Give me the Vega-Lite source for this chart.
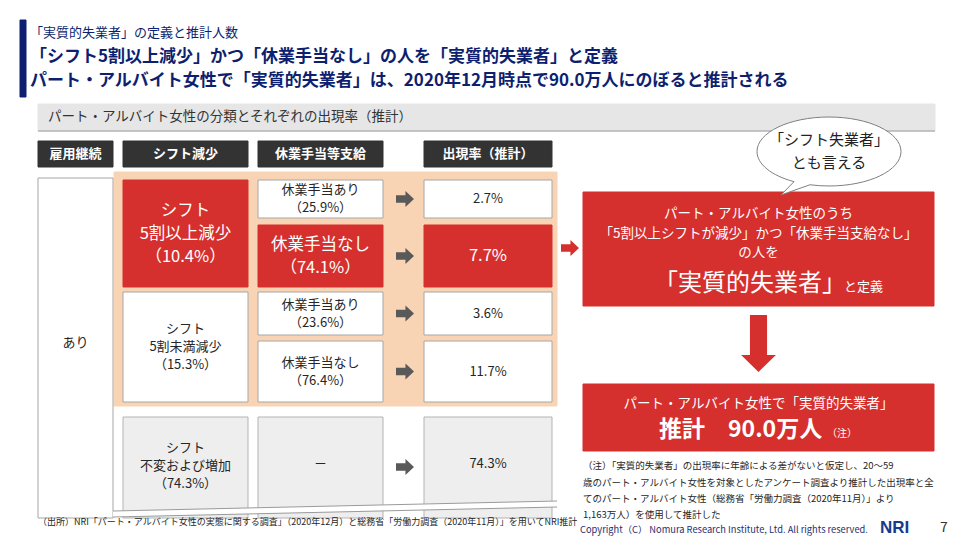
{
  "$schema": "https://vega.github.io/schema/vega-lite/v6.json",
  "width": 960,
  "height": 540,
  "padding": 0,
  "autosize": {"type": "fit", "contains": "padding"},
  "background": "#ffffff",
  "config": {"view": {"stroke": null}, "font": "Noto Sans CJK JP"},
  "datasets": {
    "boxes": [
      {"x": 20, "x2": 26, "y": 20, "y2": 97, "kind": "navy"},
      {"x": 38, "x2": 935, "y": 104, "y2": 131, "kind": "band"},
      {"x": 38, "x2": 113, "y": 141, "y2": 167, "kind": "dark"},
      {"x": 123, "x2": 248, "y": 141, "y2": 167, "kind": "dark"},
      {"x": 258, "x2": 383, "y": 141, "y2": 167, "kind": "dark"},
      {"x": 424, "x2": 552, "y": 141, "y2": 167, "kind": "dark"},
      {"x": 114, "x2": 557, "y": 172, "y2": 406, "kind": "orange"},
      {"x": 38, "x2": 113, "y": 178, "y2": 518, "kind": "white"},
      {"x": 123, "x2": 248, "y": 180, "y2": 287, "kind": "red"},
      {"x": 258, "x2": 383, "y": 180, "y2": 218, "kind": "white"},
      {"x": 258, "x2": 383, "y": 225, "y2": 287, "kind": "red"},
      {"x": 424, "x2": 552, "y": 180, "y2": 218, "kind": "white"},
      {"x": 424, "x2": 552, "y": 225, "y2": 287, "kind": "red"},
      {"x": 123, "x2": 248, "y": 292, "y2": 402, "kind": "white"},
      {"x": 258, "x2": 383, "y": 292, "y2": 335, "kind": "white"},
      {"x": 258, "x2": 383, "y": 341, "y2": 402, "kind": "white"},
      {"x": 424, "x2": 552, "y": 292, "y2": 335, "kind": "white"},
      {"x": 424, "x2": 552, "y": 341, "y2": 402, "kind": "white"},
      {"x": 123, "x2": 248, "y": 417, "y2": 518, "kind": "gray"},
      {"x": 258, "x2": 383, "y": 417, "y2": 518, "kind": "gray"},
      {"x": 424, "x2": 552, "y": 417, "y2": 518, "kind": "gray"},
      {"x": 583, "x2": 934, "y": 192, "y2": 306, "kind": "red"},
      {"x": 583, "x2": 934, "y": 384, "y2": 451, "kind": "red"}
    ],
    "gap": [{"x": 113, "y": 514, "x2": 557, "y2": 504}],
    "lines": [
      {"x": 38, "y": 131, "x2": 935, "y2": 131},
      {"x": 113, "y": 511, "x2": 557, "y2": 501},
      {"x": 113, "y": 517, "x2": 557, "y2": 507}
    ],
    "arrows": [
      {"x": 405, "y": 199, "kind": "gray"},
      {"x": 405, "y": 256, "kind": "gray"},
      {"x": 405, "y": 313.5, "kind": "gray"},
      {"x": 405, "y": 371.5, "kind": "gray"},
      {"x": 405, "y": 467, "kind": "gray"},
      {"x": 570, "y": 248, "kind": "red"}
    ],
    "down": [{"x": 758.5, "y": 343.5}],
    "bubble": [{"x": 829, "y": 151.5}],
    "titleSmall": [{"x": 30, "y": 33, "t": "「実質的失業者」の定義と推計人数"}],
    "titleBig": [
      {"x": 30, "y": 57, "t": "「シフト5割以上減少」かつ「休業手当なし」の人を「実質的失業者」と定義"},
      {"x": 30, "y": 81, "t": "パート・アルバイト女性で「実質的失業者」は、2020年12月時点で90.0万人にのぼると推計される"}
    ],
    "bandText": [{"x": 48, "y": 117, "t": "パート・アルバイト女性の分類とそれぞれの出現率（推計）"}],
    "headers": [
      {"x": 75.5, "y": 154, "t": "雇用継続"},
      {"x": 185.5, "y": 154, "t": "シフト減少"},
      {"x": 320.5, "y": 154, "t": "休業手当等支給"},
      {"x": 488, "y": 154, "t": "出現率（推計）"}
    ],
    "cellDark": [
      {"x": 75.5, "y": 343, "t": "あり"},
      {"x": 320.5, "y": 190, "t": "休業手当あり"},
      {"x": 320.5, "y": 208, "t": "（25.9%）"},
      {"x": 488, "y": 199, "t": "2.7%"},
      {"x": 185.5, "y": 329, "t": "シフト"},
      {"x": 185.5, "y": 347, "t": "5割未満減少"},
      {"x": 185.5, "y": 365, "t": "（15.3%）"},
      {"x": 320.5, "y": 304.5, "t": "休業手当あり"},
      {"x": 320.5, "y": 322.5, "t": "（23.6%）"},
      {"x": 320.5, "y": 362.5, "t": "休業手当なし"},
      {"x": 320.5, "y": 380.5, "t": "（76.4%）"},
      {"x": 488, "y": 313.5, "t": "3.6%"},
      {"x": 488, "y": 371.5, "t": "11.7%"},
      {"x": 185.5, "y": 448, "t": "シフト"},
      {"x": 185.5, "y": 466, "t": "不変および増加"},
      {"x": 185.5, "y": 484, "t": "（74.3%）"},
      {"x": 320.5, "y": 464, "t": "－"},
      {"x": 488, "y": 464, "t": "74.3%"}
    ],
    "cellRed": [
      {"x": 185.5, "y": 211, "t": "シフト"},
      {"x": 185.5, "y": 234, "t": "5割以上減少"},
      {"x": 185.5, "y": 257, "t": "（10.4%）"},
      {"x": 320.5, "y": 244.5, "t": "休業手当なし"},
      {"x": 320.5, "y": 267.5, "t": "（74.1%）"},
      {"x": 488, "y": 256, "t": "7.7%"}
    ],
    "defText": [
      {"x": 758.5, "y": 214, "t": "パート・アルバイト女性のうち"},
      {"x": 758.5, "y": 233.5, "t": "「5割以上シフトが減少」かつ「休業手当支給なし」"},
      {"x": 758.5, "y": 253, "t": "の人を"},
      {"x": 758.5, "y": 404, "t": "パート・アルバイト女性で「実質的失業者」"}
    ],
    "defBig": [{"x": 846, "y": 283.5, "t": "「実質的失業者」"}],
    "defSmall": [{"x": 844, "y": 287, "t": "と定義"}],
    "estimate": [{"x": 659, "y": 430, "t": "推計　90.0万人"}],
    "noteMark": [{"x": 827, "y": 434, "t": "（注）"}],
    "bubbleText": [
      {"x": 829, "y": 140, "t": "「シフト失業者」"},
      {"x": 829, "y": 163, "t": "とも言える"}
    ],
    "notes": [
      {"x": 583, "y": 466, "t": "（注）「実質的失業者」の出現率に年齢による差がないと仮定し、20～59"},
      {"x": 583, "y": 483, "t": "歳のパート・アルバイト女性を対象としたアンケート調査より推計した出現率と全"},
      {"x": 583, "y": 499, "t": "てのパート・アルバイト女性（総務省「労働力調査（2020年11月）」より"},
      {"x": 583, "y": 515, "t": "1,163万人）を使用して推計した"}
    ],
    "source": [{"x": 38, "y": 522, "t": "（出所）NRI「パート・アルバイト女性の実態に関する調査」（2020年12月）と総務省「労働力調査（2020年11月）」を用いてNRI推計"}],
    "copyright": [{"x": 580, "y": 530, "t": "Copyright（C） Nomura Research Institute, Ltd. All rights reserved."}],
    "logo": [{"x": 880, "y": 528, "t": "NRI"}],
    "page": [{"x": 940, "y": 528, "t": "7"}]
  },
  "encoding": {
    "x": {"field": "x", "type": "quantitative", "scale": {"domain": [0, 960], "nice": false, "zero": false}, "axis": null},
    "y": {"field": "y", "type": "quantitative", "scale": {"domain": [0, 540], "nice": false, "zero": false, "reverse": true}, "axis": null}
  },
  "layer": [
    {
      "data": {"name": "boxes"},
      "mark": {"type": "rect", "strokeWidth": 1},
      "encoding": {
        "x2": {"field": "x2"},
        "y2": {"field": "y2"},
        "fill": {"field": "kind", "type": "nominal", "legend": null,
          "scale": {"domain": ["navy", "band", "dark", "orange", "white", "red", "gray"],
                    "range": ["#0e1f70", "#e6e6e6", "#333333", "#f9d4b4", "#ffffff", "#d5302e", "#eeeeee"]}},
        "stroke": {"field": "kind", "type": "nominal", "legend": null,
          "scale": {"domain": ["navy", "band", "dark", "orange", "white", "red", "gray"],
                    "range": ["#0e1f70", "#e6e6e6", "#333333", "#f9d4b4", "#a6a6a6", "#d5302e", "#b3b3b3"]}}
      }
    },
    {
      "data": {"name": "gap"},
      "mark": {"type": "rule", "color": "#ffffff", "strokeWidth": 6},
      "encoding": {"x2": {"field": "x2"}, "y2": {"field": "y2"}}
    },
    {
      "data": {"name": "lines"},
      "mark": {"type": "rule", "color": "#9a9a9a", "strokeWidth": 1},
      "encoding": {"x2": {"field": "x2"}, "y2": {"field": "y2"}}
    },
    {
      "data": {"name": "arrows"},
      "mark": {"type": "point", "filled": true, "opacity": 1, "size": 324, "strokeWidth": 0,
        "shape": "M-1,-0.42L0.05,-0.42L0.05,-0.9L1,0L0.05,0.9L0.05,0.42L-1,0.42Z"},
      "encoding": {
        "color": {"field": "kind", "type": "nominal", "legend": null,
          "scale": {"domain": ["gray", "red"], "range": ["#595959", "#d5302e"]}}
      }
    },
    {
      "data": {"name": "down"},
      "mark": {"type": "point", "filled": true, "opacity": 1, "size": 3249, "strokeWidth": 0, "color": "#d5302e",
        "shape": "M-0.3,-1L0.3,-1L0.3,0.4L0.61,0.4L0,1L-0.61,0.4L-0.3,0.4Z"}
    },
    {
      "data": {"name": "bubble"},
      "mark": {"type": "point", "filled": true, "opacity": 1, "size": 20736, "fill": "#ffffff", "stroke": "#7f7f7f", "strokeWidth": 1,
        "shape": "M-1,0C-1,0.1739 -0.803,0.334 -0.486,0.419L-0.667,0.604L-0.264,0.462C-0.178,0.473 -0.089,0.479 0,0.479C0.5523,0.479 1,0.2646 1,0C1,-0.2646 0.5523,-0.479 0,-0.479C-0.5523,-0.479 -1,-0.2646 -1,0Z"}
    },
    {
      "data": {"name": "titleSmall"},
      "mark": {"type": "text", "align": "left", "baseline": "middle", "fontSize": 13, "color": "#0e1f70"},
      "encoding": {"text": {"field": "t"}}
    },
    {
      "data": {"name": "titleBig"},
      "mark": {"type": "text", "align": "left", "baseline": "middle", "fontSize": 17, "fontWeight": "bold", "color": "#0e1f70"},
      "encoding": {"text": {"field": "t"}}
    },
    {
      "data": {"name": "bandText"},
      "mark": {"type": "text", "align": "left", "baseline": "middle", "fontSize": 13.5, "color": "#333333"},
      "encoding": {"text": {"field": "t"}}
    },
    {
      "data": {"name": "headers"},
      "mark": {"type": "text", "align": "center", "baseline": "middle", "fontSize": 13, "fontWeight": "bold", "color": "#ffffff"},
      "encoding": {"text": {"field": "t"}}
    },
    {
      "data": {"name": "cellDark"},
      "mark": {"type": "text", "align": "center", "baseline": "middle", "fontSize": 13, "color": "#262626"},
      "encoding": {"text": {"field": "t"}}
    },
    {
      "data": {"name": "cellRed"},
      "mark": {"type": "text", "align": "center", "baseline": "middle", "fontSize": 16.5, "color": "#ffffff"},
      "encoding": {"text": {"field": "t"}}
    },
    {
      "data": {"name": "defText"},
      "mark": {"type": "text", "align": "center", "baseline": "middle", "fontSize": 13.5, "color": "#ffffff"},
      "encoding": {"text": {"field": "t"}}
    },
    {
      "data": {"name": "defBig"},
      "mark": {"type": "text", "align": "right", "baseline": "middle", "fontSize": 24, "color": "#ffffff"},
      "encoding": {"text": {"field": "t"}}
    },
    {
      "data": {"name": "defSmall"},
      "mark": {"type": "text", "align": "left", "baseline": "middle", "fontSize": 13, "color": "#ffffff"},
      "encoding": {"text": {"field": "t"}}
    },
    {
      "data": {"name": "estimate"},
      "mark": {"type": "text", "align": "left", "baseline": "middle", "fontSize": 23, "fontWeight": "bold", "color": "#ffffff"},
      "encoding": {"text": {"field": "t"}}
    },
    {
      "data": {"name": "noteMark"},
      "mark": {"type": "text", "align": "left", "baseline": "middle", "fontSize": 10, "color": "#ffffff"},
      "encoding": {"text": {"field": "t"}}
    },
    {
      "data": {"name": "bubbleText"},
      "mark": {"type": "text", "align": "center", "baseline": "middle", "fontSize": 15, "color": "#222222"},
      "encoding": {"text": {"field": "t"}}
    },
    {
      "data": {"name": "notes"},
      "mark": {"type": "text", "align": "left", "baseline": "middle", "fontSize": 9.5, "color": "#262626"},
      "encoding": {"text": {"field": "t"}}
    },
    {
      "data": {"name": "source"},
      "mark": {"type": "text", "align": "left", "baseline": "middle", "fontSize": 9, "color": "#262626"},
      "encoding": {"text": {"field": "t"}}
    },
    {
      "data": {"name": "copyright"},
      "mark": {"type": "text", "align": "left", "baseline": "middle", "fontSize": 9.3, "color": "#1f2f6f"},
      "encoding": {"text": {"field": "t"}}
    },
    {
      "data": {"name": "logo"},
      "mark": {"type": "text", "align": "left", "baseline": "middle", "fontSize": 17, "fontWeight": "bold", "font": "Liberation Sans", "color": "#173a8c"},
      "encoding": {"text": {"field": "t"}}
    },
    {
      "data": {"name": "page"},
      "mark": {"type": "text", "align": "left", "baseline": "middle", "fontSize": 14, "color": "#333333"},
      "encoding": {"text": {"field": "t"}}
    }
  ]
}
